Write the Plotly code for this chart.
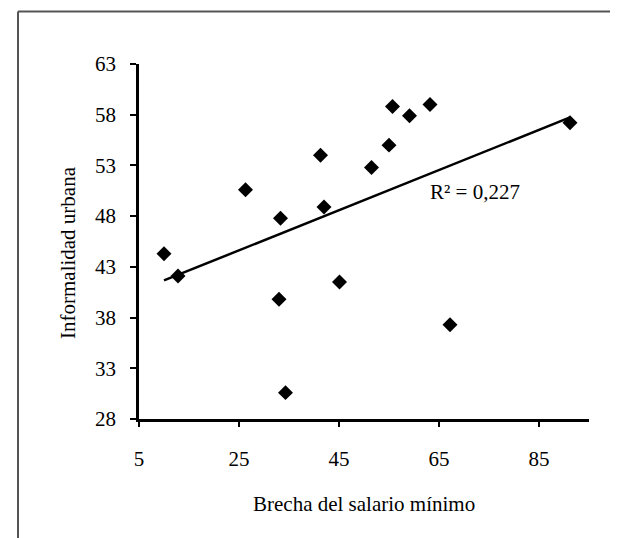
import numpy as np
import plotly.graph_objects as go

# Data
brecha = [10.0, 12.8, 26.3, 33.0, 33.3, 34.3, 41.3, 42.0, 45.1, 51.5, 55.0, 55.7, 59.1, 63.2, 67.2, 91.2]
informalidad = [44.3, 42.1, 50.6, 39.8, 47.8, 30.6, 54.0, 48.9, 41.5, 52.8, 55.0, 58.8, 57.9, 59.0, 37.3, 57.2]
x_ticks = [5, 25, 45, 65, 85]
y_ticks = [28, 33, 38, 43, 48, 53, 58, 63]
r2_label = "R² = 0,227"
x_title = "Brecha del salario mínimo"
y_title = "Informalidad urbana"

xa = np.array(brecha)
ya = np.array(informalidad)
slope, intercept = np.polyfit(xa, ya, 1)
trend_x = [xa.min(), xa.max()]
trend_y = [intercept + slope * v for v in trend_x]

FONT = "Liberation Serif, Times New Roman, serif"
FS = 21

fig = go.Figure()
fig.add_trace(go.Scatter(x=trend_x, y=trend_y, mode="lines",
                         line=dict(color="black", width=2.5), hoverinfo="skip"))
fig.add_trace(go.Scatter(x=brecha, y=informalidad, mode="markers",
                         marker=dict(symbol="diamond", size=11.5, color="black")))

L, R, T, B = 131, 37, 56, 127
W, H = 618, 538
pw = W - L - R
ph = H - T - B

def px2paper_x(px):
    return (px - L) / pw

def px2paper_y(py):
    return (H - B - py) / ph

fig.update_layout(
    width=W, height=H,
    margin=dict(l=L, r=R, t=T, b=B, pad=0),
    paper_bgcolor="white", plot_bgcolor="white",
    showlegend=False,
    font=dict(family=FONT, size=FS, color="black"),
    xaxis=dict(range=[5, 95], tickvals=x_ticks, showgrid=False, zeroline=False,
               showline=True, linecolor="black", linewidth=2.5,
               ticks="outside", ticklen=5, tickwidth=1.5, tickcolor="black",
               ticklabelstandoff=14, tickfont=dict(family=FONT, size=FS)),
    yaxis=dict(range=[28, 63], tickvals=y_ticks, showgrid=False, zeroline=False,
               showline=True, linecolor="black", linewidth=2.5,
               ticks="outside", ticklen=6, tickwidth=1.5, tickcolor="black",
               ticklabelstandoff=10, tickfont=dict(family=FONT, size=FS)),
    annotations=[
        dict(x=72.1, y=50.4, xref="x", yref="y", text=r2_label, showarrow=False,
             font=dict(family=FONT, size=FS), xanchor="center", yanchor="middle"),
        dict(x=0.5, y=px2paper_y(496), xref="paper", yref="paper", text=x_title,
             showarrow=False, font=dict(family=FONT, size=FS),
             xanchor="center", yanchor="middle"),
        dict(x=px2paper_x(60), y=px2paper_y(245), xref="paper", yref="paper",
             text=y_title, textangle=-90, showarrow=False,
             font=dict(family=FONT, size=FS), xanchor="center", yanchor="middle"),
    ],
    shapes=[
        dict(type="line", xref="paper", yref="paper",
             x0=px2paper_x(10), x1=px2paper_x(10), y0=px2paper_y(3.5), y1=px2paper_y(537),
             line=dict(color="#555555", width=2)),
        dict(type="line", xref="paper", yref="paper",
             x0=px2paper_x(10), x1=px2paper_x(640), y0=px2paper_y(3.5), y1=px2paper_y(3.5),
             line=dict(color="#555555", width=2)),
        dict(type="line", xref="paper", yref="paper",
             x0=px2paper_x(10), x1=px2paper_x(640), y0=px2paper_y(537), y1=px2paper_y(537),
             line=dict(color="#cccccc", width=1.5)),
    ],
)

fig.write_html("out.html")
